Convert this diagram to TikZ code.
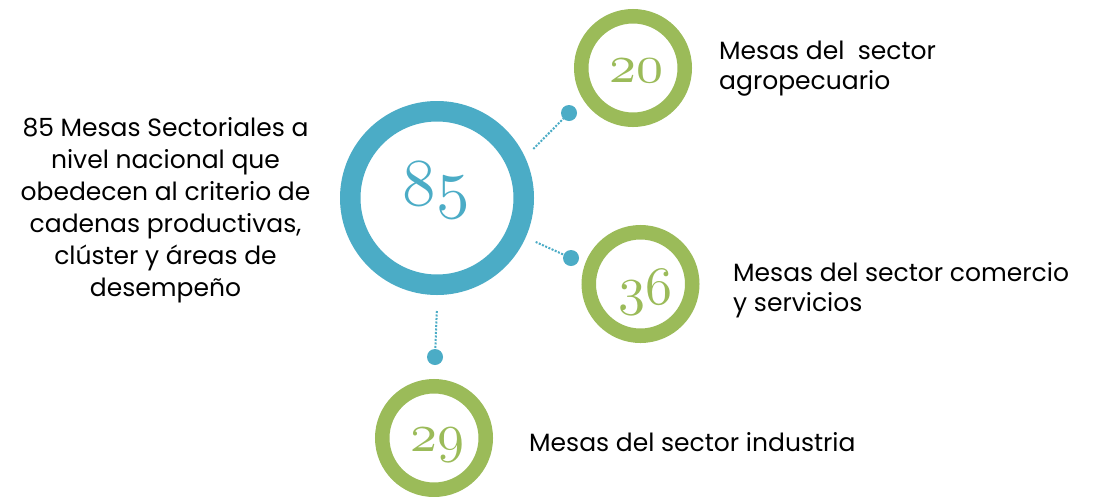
\documentclass[tikz,border=0pt]{standalone}
\usepackage{fontspec}
\setmainfont{Poppins}
\definecolor{ringblue}{HTML}{4BACC6}
\definecolor{ringgreen}{HTML}{9BBB59}
\newcommand\oldnum[2]{\scalebox{#1}{\fontencoding{OML}\fontfamily{lmm}\fontseries{m}\fontshape{it}\fontsize{10}{10}\selectfont #2}}
\tikzset{
  ringbig/.style={circle, draw=ringblue, line width=20.5pt, minimum size=173.5pt, inner sep=0pt, outer sep=21.25pt},
  ringsmall/.style={circle, draw=ringgreen, line width=14.5pt, minimum size=103.5pt, inner sep=0pt},
  dotnode/.style={circle, fill=ringblue, minimum size=16pt, inner sep=0pt},
  conn/.style={draw=ringblue, line width=2pt, dash pattern=on 2pt off 1.5pt},
  bignum/.style={text=ringblue, inner sep=0pt, anchor=base},
  smallnum/.style={text=ringgreen, inner sep=0pt, anchor=base},
  lbl/.style={font=\fontsize{25}{30}\selectfont, text=black, inner sep=0pt, align=left, anchor=west},
  lefttxt/.style={font=\fontsize{25}{32}\selectfont, text=black, inner sep=0pt, align=center}
}
\begin{document}
\begin{tikzpicture}[x=1pt,y=-1pt]
\useasboundingbox[fill=white] (0,0) rectangle (1094,496);
% rings
\node[ringbig] (c85) at (437,198) {};
\node[ringsmall] (c20) at (633,68) {};
\node[ringsmall] (c36) at (640.5,284) {};
\node[ringsmall] (c29) at (434,438) {};
% numbers
\node[bignum] (n85) at (436,205) {\oldnum{6.7}{85}};
\node[smallnum] (n20) at (636,82) {\oldnum{5.4}{20}};
\node[smallnum] (n36) at (645,304) {\oldnum{5.4}{36}};
\node[smallnum] (n29) at (437.5,451) {\oldnum{5.4}{29}};
% dots
\node[dotnode] (d20) at (569,113) {};
\node[dotnode] (d36) at (571,258) {};
\node[dotnode] (d29) at (435,357) {};
% connectors
\draw[conn] (c85.27.5) -- (d20);
\draw[conn] (c85.-24.6) -- (d36);
\draw[conn, shorten <=5pt] (c85.-90) -- (d29);
% labels
\node[lefttxt] (tmain) at (165.5,210) {85 Mesas Sectoriales a\\nivel nacional que\\obedecen al criterio de\\cadenas productivas,\\clúster y áreas de\\desempeño};
\node[lbl] (t20) at (719,69) {Mesas del\ \ sector\\agropecuario};
\node[lbl] (t36) at (733,290) {Mesas del sector comercio\\y servicios};
\node[lbl, anchor=base west] (t29) at (529,451) {Mesas del sector industria};
\end{tikzpicture}
\end{document}
